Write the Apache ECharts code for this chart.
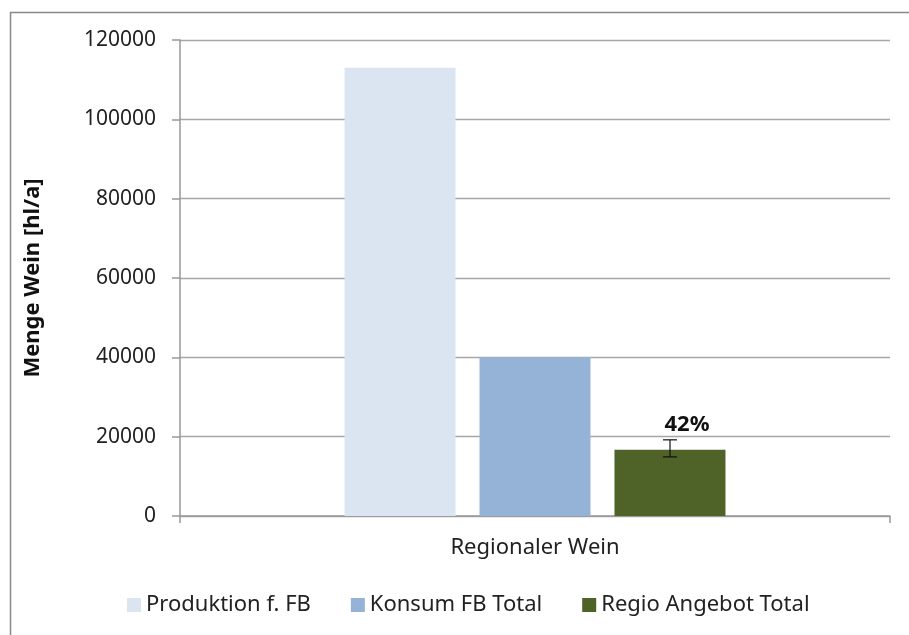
<!DOCTYPE html>
<html>
<head>
<meta charset="utf-8">
<script src="https://cdn.jsdelivr.net/npm/echarts@6/dist/echarts.min.js"></script>
<style>
  html, body { margin: 0; padding: 0; background: #fff; }
  #main { width: 909px; height: 635px; }
</style>
</head>
<body>
<div id="main"></div>
<script>
// data
const categories = ['Regionaler Wein'];
const seriesNames = ['Produktion f. FB', 'Konsum FB Total', 'Regio Angebot Total'];
const produktion = [113000];
const konsum = [40000];
const regio = [16700];
const regioErrLow = [14900];
const regioErrHigh = [19200];
const regioLabel = ['42%'];
const yTicks = [0, 20000, 40000, 60000, 80000, 100000, 120000];

const font = 'Noto Sans';
const colors = ['#dbe5f1', '#95b3d7', '#4f6228'];

let myChart = echarts.init(document.getElementById('main'));

myChart.setOption({
  animation: false,
  textStyle: { fontFamily: font },
  graphic: [{
    type: 'rect',
    shape: { x: 10.5, y: 12.5, width: 1000, height: 1000 },
    style: { fill: 'none', stroke: '#888', lineWidth: 1.5 },
    silent: true
  }],
  grid: { left: 180, right: 19, top: 40, bottom: 119 },
  legend: {
    data: seriesNames,
    left: 122,
    top: 589,
    icon: 'rect',
    itemWidth: 14,
    itemHeight: 14,
    itemGap: 40,
    textStyle: { fontSize: 22, color: '#222', fontFamily: font }
  },
  xAxis: {
    type: 'category',
    data: categories,
    axisLine: { lineStyle: { color: '#999', width: 1.5 } },
    axisTick: { show: true, length: 7, alignWithLabel: false, lineStyle: { color: '#999', width: 1.5 } },
    axisLabel: { fontSize: 22, color: '#222', margin: 21 }
  },
  yAxis: {
    type: 'value',
    min: yTicks[0],
    max: yTicks[yTicks.length - 1],
    interval: 20000,
    name: 'Menge Wein [hl/a]',
    nameLocation: 'middle',
    nameGap: 136,
    nameRotate: 90,
    nameTextStyle: { fontSize: 22, fontWeight: 'bold', color: '#111' },
    axisLine: { show: true, lineStyle: { color: '#999', width: 1.5 } },
    axisTick: { show: true, length: 8, inside: false, lineStyle: { color: '#999', width: 1.5 } },
    axisLabel: { fontSize: 21, color: '#222', margin: 24, formatter: v => String(v) },
    splitLine: { lineStyle: { color: '#a6a6a6', width: 1.3 } }
  },
  series: [
    {
      name: seriesNames[0], type: 'bar', data: produktion,
      barWidth: 111, barGap: '21.6%',
      itemStyle: { color: colors[0] }
    },
    {
      name: seriesNames[1], type: 'bar', data: konsum,
      barWidth: 111, barGap: '21.6%',
      itemStyle: { color: colors[1] }
    },
    {
      name: seriesNames[2], type: 'bar', data: regio,
      barWidth: 111, barGap: '21.6%',
      itemStyle: { color: colors[2] }
    },
    {
      name: 'err', type: 'custom',
      data: regioErrLow.map((lo, i) => [i, lo, regioErrHigh[i]]),
      z: 10,
      renderItem: function (params, api) {
        const i = api.value(0);
        const lo = api.coord([i, api.value(1)]);
        const hi = api.coord([i, api.value(2)]);
        // third bar center: one bar width + gap to the right of the group center
        const x = lo[0] + (111 + 24);
        const hw = 7;
        return {
          type: 'group',
          children: [
            { type: 'line', shape: { x1: x, y1: hi[1], x2: x, y2: lo[1] }, style: { stroke: '#111', lineWidth: 1.2 } },
            { type: 'line', shape: { x1: x - hw, y1: hi[1], x2: x + hw, y2: hi[1] }, style: { stroke: '#111', lineWidth: 1.2 } },
            { type: 'line', shape: { x1: x - hw, y1: lo[1], x2: x + hw, y2: lo[1] }, style: { stroke: '#111', lineWidth: 1.2 } },
            {
              type: 'text',
              style: {
                x: x + 17, y: hi[1] - 4, text: regioLabel[params.dataIndex],
                textAlign: 'center', textVerticalAlign: 'bottom',
                font: 'bold 22px "Noto Sans"', fill: '#111'
              }
            }
          ]
        };
      }
    }
  ]
});
</script>
</body>
</html>
